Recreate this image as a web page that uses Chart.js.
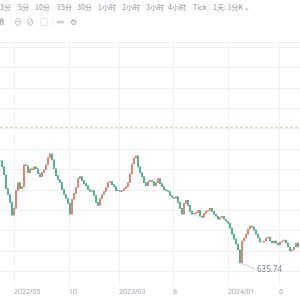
<!DOCTYPE html>
<html>
<head>
<meta charset="utf-8">
<script src="https://cdn.jsdelivr.net/npm/chart.js@4"></script>
<style>
  html, body { margin: 0; padding: 0; background: #fff; width: 300px; height: 300px; overflow: hidden;
    font-family: "Noto Sans CJK SC", "Noto Sans", sans-serif; }
  #bar { position: absolute; left: 0; top: 0; width: 300px; height: 30px; color: #8c919b; font-size: 7px; }
  #bar span { position: absolute; white-space: nowrap; line-height: 10px; }
  #bar .r1 { top: 2px; }
  #bar .r2 { top: 17px; font-size: 8px; color: #a0a4ab; }
  #wrap { position: absolute; left: 0; top: 30px; width: 300px; height: 270px; }
</style>
</head>
<body>
<div id="bar">
  <span class="r1" style="left:0">3分</span>
  <span class="r1" style="left:18px">5分</span>
  <span class="r1" style="left:35px">10分</span>
  <span class="r1" style="left:57px">15分</span>
  <span class="r1" style="left:77px">30分</span>
  <span class="r1" style="left:98px">1小时</span>
  <span class="r1" style="left:122px">2小时</span>
  <span class="r1" style="left:146px">3小时</span>
  <span class="r1" style="left:168px">4小时</span>
  <span class="r1" style="left:193px">Tick</span>
  <span class="r1" style="left:208px;color:#dde0e5">|</span>
  <span class="r1" style="left:213px">1天: 1分K ⌄</span>
  <span class="r2" style="left:-1px;font-weight:bold">ñ</span>
  <span class="r2" style="left:14px">⊖</span>
  <span class="r2" style="left:26px">⊘</span>
  <span class="r2" style="left:40px">□</span>
  <span class="r2" style="left:52px;color:#dde0e5">|</span>
  <span class="r2" style="left:57px">⚯</span>
  <span class="r2" style="left:70px">⚙</span>
</div>
<div id="wrap"><canvas id="kline"></canvas></div>
<script>
// closing levels, one candle per ~4 trading days, 2022/03 .. 2024/08
const closes = [
  760.9, 753.6, 743.9, 726.9, 719.7, 710.0, 694.2, 702.7, 724.5, 734.2,
  726.9, 729.4, 756.1, 754.9, 746.4, 751.2, 750.0, 753.6, 751.2, 745.1,
  741.5, 746.4, 750.0, 756.1, 764.6, 769.4, 762.1, 751.2, 742.7, 737.9,
  734.2, 725.7, 719.7, 714.8, 708.7, 695.4, 713.6, 720.9, 728.2, 739.1,
  741.5, 736.7, 733.0, 730.6, 725.7, 723.3, 724.5, 718.4, 710.0, 706.3,
  714.8, 719.7, 723.3, 728.2, 734.2, 735.4, 731.8, 729.4, 724.5, 724.5,
  723.3, 724.5, 726.9, 729.4, 734.2, 745.1, 757.3, 764.6, 767.0, 753.6,
  746.4, 741.5, 734.2, 730.6, 735.4, 736.7, 735.4, 730.6, 734.2, 739.1,
  733.0, 729.4, 725.7, 724.5, 723.3, 718.4, 716.0, 714.8, 717.2, 710.0,
  702.7, 695.4, 708.7, 712.4, 706.3, 699.0, 695.4, 696.6, 697.8, 700.2,
  693.0, 691.7, 696.6, 699.0, 700.2, 702.7, 699.0, 695.4, 693.0, 689.3,
  691.7, 693.0, 689.3, 686.9, 684.5, 678.4, 671.1, 665.0, 659.0, 651.7,
  635.74, 662.6, 666.3, 671.1, 677.2, 680.8, 679.6, 676.0, 671.1, 666.3,
  661.4, 661.4, 662.6, 666.3, 667.5, 662.6, 660.2, 662.6, 660.2, 657.8,
  661.4, 662.6, 663.8, 660.2, 655.3, 650.5, 651.7, 655.3, 660.2, 655.3
];
const tickLabels = ['2022/05', '10', '2023/03', '8', '2024/01', '6'];
const tickIndex  = [7, 34.5, 59.5, 86.5, 114, 139.5];
const priceGrid  = [625, 650, 675, 700, 725, 750, 775, 800, 825, 850, 875, 900];
const refLevel   = 802.2;

const up = '#e27d6d', down = '#46b08a';
const candles = closes.map((c, i) => ({ x: i, y: [i ? closes[i - 1] : c, c] }));
const colors = candles.map(d => d.y[1] > d.y[0] ? up : down);

const lowLabel = {
  id: 'lowLabel',
  afterDatasetsDraw(chart) {
    const { ctx, scales: { x, y } } = chart;
    const i = closes.indexOf(Math.min(...closes));
    const px = x.getPixelForValue(i), py = y.getPixelForValue(closes[i]);
    ctx.save();
    ctx.strokeStyle = '#c9cdd3';
    ctx.lineWidth = 1;
    ctx.beginPath(); ctx.moveTo(px + 1, py); ctx.lineTo(px + 15, py + 6); ctx.stroke();
    ctx.fillStyle = '#7d828c';
    ctx.font = '8px "Noto Sans", sans-serif';
    ctx.textBaseline = 'middle';
    ctx.fillText(closes[i].toFixed(2), px + 17, py + 7);
    ctx.restore();
  }
};

new Chart(document.getElementById('kline'), {
  type: 'bar',
  data: {
    datasets: [
      { type: 'line', data: [{ x: 0, y: refLevel }, { x: 150, y: refLevel }],
        borderColor: '#e6c29e', borderWidth: 1, borderDash: [3, 2], pointRadius: 0 },
      { data: candles, backgroundColor: colors, barThickness: 1.2 }
    ]
  },
  options: {
    animation: false,
    responsive: true,
    maintainAspectRatio: false,
    layout: { padding: { top: 12, bottom: 1, left: 0, right: 0 }, autoPadding: false },
    plugins: { legend: { display: false }, tooltip: { enabled: false } },
    scales: {
      x: {
        type: 'linear', min: 0, max: 150, offset: false,
        afterBuildTicks: s => { s.ticks = tickIndex.map(v => ({ value: v })); },
        grid: { color: '#edf0f4', drawTicks: false, offset: false },
        border: { display: false },
        ticks: { callback: (v, i) => tickLabels[i], align: 'start', padding: 3, autoSkip: false,
                 maxRotation: 0, color: '#a0a4ab', font: { size: 7, family: 'Noto Sans' } }
      },
      y: {
        min: 609.2, max: 906.6,
        afterBuildTicks: s => { s.ticks = priceGrid.concat([s.max]).map(v => ({ value: v })); },
        grid: { color: '#edf0f4', drawTicks: false },
        border: { display: false },
        ticks: { display: false }
      }
    }
  },
  plugins: [lowLabel]
});
</script>
</body>
</html>
